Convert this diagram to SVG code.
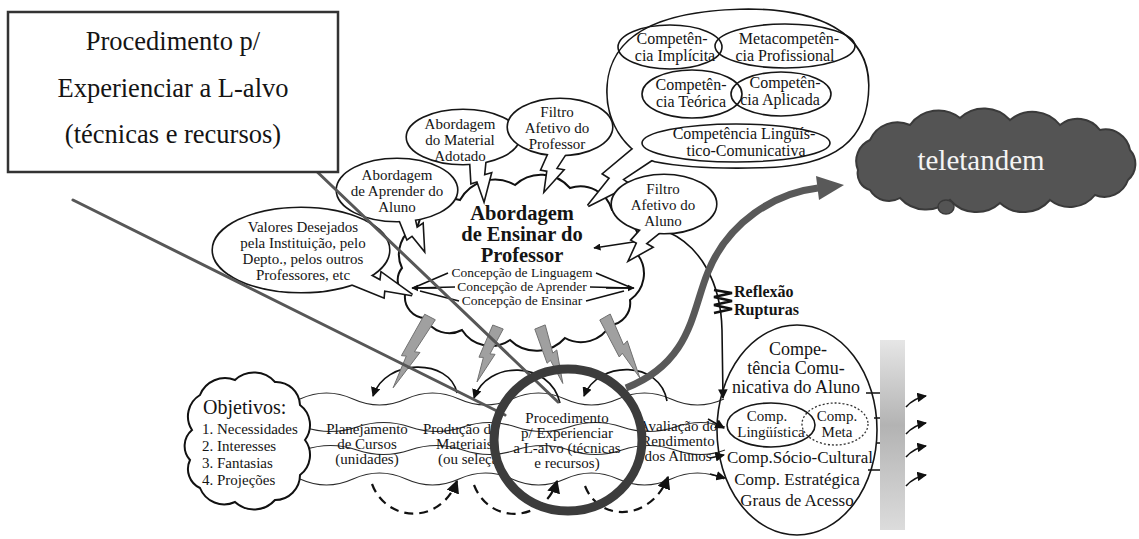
<svg xmlns="http://www.w3.org/2000/svg" width="1139" height="539" viewBox="0 0 1139 539">
<defs>
<style>
text{font-family:"Liberation Serif","Times New Roman",serif;fill:#141414}
.m{text-anchor:middle}
.s15{font-size:15px}
.s16{font-size:16px}
.s18{font-size:18px}
.bo{fill:#fff;stroke:#161616;stroke-width:3.2}
.paint{fill:#fff;stroke:none}
.ol{fill:none;stroke:#161616;stroke-width:1.6}
.wave{fill:none;stroke:#2a2a2a;stroke-width:1.1}
.arc{fill:none;stroke:#111;stroke-width:1.6}
.dash{fill:none;stroke:#111;stroke-width:2.2;stroke-dasharray:9 6}
.ga{fill:#a0a0a0;stroke:#707070;stroke-width:1}
.diag{stroke:#575757;stroke-width:3;stroke-linecap:round}
</style>
<path id="bolt" vector-effect="non-scaling-stroke" d="M-8,0 L8,0 L3,20 L10,19 L0,42 L-4,24 L-10,25 Z"/>
<marker id="ah" viewBox="0 0 10 10" refX="9" refY="5" markerWidth="6" markerHeight="6" orient="auto">
<path d="M0,0 L10,5 L0,10 Z" fill="#111"/>
</marker>
<marker id="ah2" viewBox="0 0 10 10" refX="9" refY="5" markerWidth="4.5" markerHeight="4.5" orient="auto">
<path d="M0,0 L10,5 L0,10 Z" fill="#111"/>
</marker>
<linearGradient id="bar" x1="0" y1="0" x2="0" y2="1">
<stop offset="0" stop-color="#e6e6e6"/>
<stop offset="0.45" stop-color="#b3b3b3"/>
<stop offset="1" stop-color="#dcdcdc"/>
</linearGradient>
<clipPath id="clipL"><rect x="0" y="380" width="497" height="100"/></clipPath>
<clipPath id="clipR"><rect x="642" y="380" width="200" height="100"/></clipPath>
</defs>

<rect width="1139" height="539" fill="#fff"/>

<!-- connectors -->
<g id="connectors">
<!-- wavy band -->
<path class="wave" d="M300,399 q26.5,-12 53,0 t53,0 t53,0 t53,0 t53,0 t53,0 t53,0 t53,0"/>
<path class="wave" d="M304,427 q26.5,9 53,0 t53,0 t53,0 t53,0 t53,0 t53,0 t53,0 t50,0"/>
<path class="wave" d="M304,450 q26.5,-9 53,0 t53,0 t53,0 t53,0 t53,0 t53,0 t53,0 t50,0"/>
<path class="wave" d="M300,479 q26.5,12 53,0 t53,0 t53,0 t53,0 t53,0 t53,0 t53,0 t53,0"/>
<!-- arcs over the band -->
<path class="arc" marker-end="url(#ah)" d="M457,393 C450,358 385,358 373,396"/>
<path class="arc" marker-end="url(#ah)" d="M560,403 C550,360 487,360 474,398"/>
<path class="arc" marker-end="url(#ah)" d="M667,401 C660,360 598,360 584,396"/>
<!-- dashed returns under the band -->
<path class="dash" marker-end="url(#ah)" d="M372,484 C386,522 440,526 457,481"/>
<path class="dash" marker-end="url(#ah)" d="M474,485 C490,526 545,522 557,481"/>
<path class="dash" marker-end="url(#ah)" d="M585,486 C600,524 652,520 668,477"/>
<!-- reflection line down to the learner competence -->
<path class="arc" marker-end="url(#ah)" d="M668,232 C700,246 721,282 722,330 L723,398"/>
<path class="arc" marker-end="url(#ah)" d="M708,419 L724,428"/>
<path class="arc" marker-end="url(#ah)" d="M710,458 L724,455"/>
<path class="arc" marker-end="url(#ah)" d="M710,474 L725,478"/>
<!-- ticks to the bar and outgoing arrows -->
<path class="arc" d="M866,393 L881,393 M874,418 L881,418 M876,443 L881,443 M868,470 L881,470"/>
<path class="arc" marker-end="url(#ah)" d="M906,407 Q914,398 926,396"/>
<path class="arc" marker-end="url(#ah)" d="M906,434 Q914,425 926,423"/>
<path class="arc" marker-end="url(#ah)" d="M906,457 Q914,448 926,446"/>
<path class="arc" marker-end="url(#ah)" d="M906,486 Q914,477 926,475"/>
</g>

<!-- central cloud -->
<g id="n-abordagem">
<path fill="#fff" stroke="#111" stroke-width="2" d="M402,268 A32,32 0 0,1 418,225 A34,34 0 0,1 460,200 A40,40 0 0,1 515,185 A38,38 0 0,1 570,188 A33,33 0 0,1 612,210 A36,36 0 0,1 638,255 A32,32 0 0,1 630,300 A22,22 0 0,1 610,325 A33,33 0 0,1 565,338 A38,38 0 0,1 510,340 A34,34 0 0,1 462,330 A27,27 0 0,1 425,318 A21,21 0 0,1 405,295 A19,19 0 0,1 402,268 Z"/>
<text class="m" x="522" y="220" font-size="20.5" font-weight="bold">Abordagem</text>
<text class="m" x="522" y="241" font-size="20.5" font-weight="bold">de Ensinar do</text>
<text class="m" x="522" y="262" font-size="20.5" font-weight="bold">Professor</text>
<text class="m" x="522" y="277" font-size="13.5">Concepção de Linguagem</text>
<text class="m" x="522" y="291" font-size="13.5">Concepção de Aprender</text>
<text class="m" x="522" y="305" font-size="13.5">Concepção de Ensinar</text>
</g>

<!-- concepts radiating inside the cloud -->
<g id="cloud-arrows">
<path class="arc" d="M448,273 L413,288 M455,287 L413,288 M459,301 L420,291"/>
<path class="arc" marker-end="url(#ah2)" d="M440,288 L412,288"/>
<path class="arc" d="M596,273 L632,288 M590,287 L632,288 M586,301 L624,291"/>
<path class="arc" marker-end="url(#ah2)" d="M606,288 L634,288"/>
<path class="arc" marker-end="url(#ah2)" d="M640,241 L594,248"/>
</g>

<!-- speech bubbles -->
<g id="n-valores">
<use href="#bolt" class="bo" transform="translate(350,274) rotate(-71.3) scale(1.1,1.56)"/>
<ellipse class="bo" cx="301" cy="250" rx="88" ry="42"/>
<use href="#bolt" class="paint" transform="translate(350,274) rotate(-71.3) scale(1.1,1.56)"/>
<ellipse class="paint" cx="301" cy="250" rx="88" ry="42"/>
<text class="m s15" x="303" y="232">Valores Desejados</text>
<text class="m s15" x="303" y="248">pela Instituição, pelo</text>
<text class="m s15" x="303" y="264">Depto., pelos outros</text>
<text class="m s15" x="303" y="280">Professores, etc</text>
</g>

<g id="n-aprender">
<use href="#bolt" class="bo" transform="translate(405,212) rotate(-26.6) scale(1,1)"/>
<ellipse class="bo" cx="397" cy="190" rx="60" ry="31"/>
<use href="#bolt" class="paint" transform="translate(405,212) rotate(-26.6) scale(1,1)"/>
<ellipse class="paint" cx="397" cy="190" rx="60" ry="31"/>
<text class="m s15" x="397" y="180">Abordagem</text>
<text class="m s15" x="397" y="196">de Aprender do</text>
<text class="m s15" x="397" y="212">Aluno</text>
</g>

<g id="n-material">
<use href="#bolt" class="bo" transform="translate(478,155) rotate(-7.6) scale(1,1.07)"/>
<ellipse class="bo" cx="463" cy="137" rx="56" ry="27"/>
<use href="#bolt" class="paint" transform="translate(478,155) rotate(-7.6) scale(1,1.07)"/>
<ellipse class="paint" cx="463" cy="137" rx="56" ry="27"/>
<text class="m s15" x="460" y="129">Abordagem</text>
<text class="m s15" x="460" y="145">do Material</text>
<text class="m s15" x="460" y="161">Adotado</text>
</g>

<g id="n-filtro-prof">
<use href="#bolt" class="bo" transform="translate(560,148) rotate(19.7) scale(1,1.06)"/>
<ellipse class="bo" cx="560" cy="127" rx="52" ry="28"/>
<use href="#bolt" class="paint" transform="translate(560,148) rotate(19.7) scale(1,1.06)"/>
<ellipse class="paint" cx="560" cy="127" rx="52" ry="28"/>
<text class="m s15" x="557" y="117">Filtro</text>
<text class="m s15" x="557" y="133">Afetivo do</text>
<text class="m s15" x="557" y="149">Professor</text>
</g>

<g id="n-competencias">
<use href="#bolt" class="bo" transform="translate(648,150) rotate(47) scale(1.3,1.95)"/>
<path class="bo" d="M655,161 C625,151 605,120 608,85 C612,35 660,12 740,10 C820,8 868,35 868,85 C868,140 835,166 760,167 C720,168 685,167 655,161 Z"/>
<use href="#bolt" class="paint" transform="translate(648,150) rotate(47) scale(1.3,1.95)"/>
<path class="paint" d="M655,161 C625,151 605,120 608,85 C612,35 660,12 740,10 C820,8 868,35 868,85 C868,140 835,166 760,167 C720,168 685,167 655,161 Z"/>
<ellipse class="ol" cx="670" cy="47" rx="52" ry="22"/>
<ellipse class="ol" cx="785" cy="46" rx="70" ry="22"/>
<ellipse class="ol" cx="692" cy="94" rx="50" ry="24"/>
<ellipse class="ol" cx="781" cy="94" rx="50" ry="22"/>
<ellipse class="ol" cx="736" cy="143" rx="94" ry="19"/>
<text class="m s16" x="672" y="44">Competên-</text>
<text class="m s16" x="675" y="61">cia Implícita</text>
<text class="m s16" x="789" y="44">Metacompetên-</text>
<text class="m s16" x="785" y="61">cia Profissional</text>
<text class="m s16" x="691" y="90">Competên-</text>
<text class="m s16" x="691" y="107">cia Teórica</text>
<text class="m s16" x="785" y="88">Competên-</text>
<text class="m s16" x="780" y="105">cia Aplicada</text>
<text class="m s16" x="744" y="139">Competência Lingüís-</text>
<text class="m s16" x="746" y="156">tico-Comunicativa</text>
</g>

<g id="n-filtro-aluno">
<use href="#bolt" class="bo" transform="translate(655,226) rotate(37.1) scale(1,1)"/>
<ellipse class="bo" cx="664" cy="204" rx="52" ry="29"/>
<use href="#bolt" class="paint" transform="translate(655,226) rotate(37.1) scale(1,1)"/>
<ellipse class="paint" cx="664" cy="204" rx="52" ry="29"/>
<text class="m s15" x="663" y="194">Filtro</text>
<text class="m s15" x="663" y="210">Afetivo do</text>
<text class="m s15" x="663" y="226">Aluno</text>
</g>

<!-- objectives -->
<g id="n-objetivos">
<path fill="#fff" stroke="#111" stroke-width="2" d="M192,430 A25,25 0 0,1 200,395 A27,27 0 0,1 235,380 A28,28 0 0,1 275,382 A24,24 0 0,1 300,405 A25,25 0 0,1 305,440 A25,25 0 0,1 300,475 A25,25 0 0,1 275,500 A28,28 0 0,1 235,502 A26,26 0 0,1 200,488 A21,21 0 0,1 190,460 A21,21 0 0,1 192,430 Z"/>
<text x="203" y="414" font-size="20">Objetivos:</text>
<text class="s15" x="202" y="434">1. Necessidades</text>
<text class="s15" x="202" y="451">2. Interesses</text>
<text class="s15" x="202" y="468">3. Fantasias</text>
<text class="s15" x="202" y="485">4. Projeções</text>
</g>

<g id="n-planejamento">
<text class="m s15" x="367" y="434">Planejamento</text>
<text class="m s15" x="367" y="449">de Cursos</text>
<text class="m s15" x="367" y="464">(unidades)</text>
</g>

<g id="n-producao" clip-path="url(#clipL)">
<text class="s15" x="423" y="434">Produção de</text>
<text class="s15" x="436" y="449">Materiais</text>
<text class="s15" x="438" y="464">(ou seleção)</text>
</g>

<g id="n-procedimento">
<text class="m s15" x="567" y="423">Procedimento</text>
<text class="m s15" x="567" y="438">p/ Experienciar</text>
<text class="m s15" x="567" y="453">a L-alvo (técnicas</text>
<text class="m s15" x="567" y="468">e recursos)</text>
</g>

<g id="n-avaliacao" clip-path="url(#clipR)">
<text class="m s15" x="678" y="431">Avaliação do</text>
<text class="m s15" x="678" y="446">Rendimento</text>
<text class="m s15" x="678" y="461">dos Alunos</text>
</g>

<!-- learner communicative competence -->
<g id="n-comp-aluno">
<ellipse class="ol" cx="797" cy="430" rx="80" ry="105"/>
<text class="m s18" x="798" y="355">Compe-</text>
<text class="m s18" x="796" y="374">tência Comu-</text>
<text class="m s18" x="796" y="393">nicativa do Aluno</text>
<ellipse class="ol" cx="771" cy="425" rx="44" ry="22"/>
<ellipse fill="none" stroke="#333" stroke-width="1.3" stroke-dasharray="2 2" cx="835" cy="424" rx="33" ry="21"/>
<text class="m s15" x="767" y="421">Comp.</text>
<text class="m s15" x="771" y="437">Lingüística</text>
<text class="m s15" x="837" y="421">Comp.</text>
<text class="m s15" x="837" y="437">Meta</text>
<text class="m" x="800" y="463" font-size="17">Comp.Sócio-Cultural</text>
<text class="m" x="797" y="485" font-size="17">Comp. Estratégica</text>
<text class="m" x="797" y="506" font-size="17">Graus de Acesso</text>
</g>

<g id="n-bar">
<rect x="880" y="340" width="25" height="190" fill="url(#bar)"/>
</g>

<g id="n-reflexao">
<polyline fill="none" stroke="#111" stroke-width="2.6" points="714,290 732,293 714,297 732,301 714,305 732,309 714,313"/>
<text x="734" y="297" font-size="16" font-weight="bold">Reflexão</text>
<text x="734" y="315" font-size="16" font-weight="bold">Rupturas</text>
</g>

<!-- gray arrows from the teaching approach to the band -->
<g id="gray-arrows">
<use href="#bolt" class="ga" transform="translate(430,317) rotate(27.5) scale(0.75,1.9)"/>
<use href="#bolt" class="ga" transform="translate(498,327) rotate(20.9) scale(0.7,1.4)"/>
<use href="#bolt" class="ga" transform="translate(540,327) rotate(-22) scale(0.7,1.45)"/>
<use href="#bolt" class="ga" transform="translate(605,317) rotate(-29.8) scale(0.75,1.67)"/>
</g>

<!-- teletandem -->
<g id="n-teletandem">
<path fill="#545454" stroke="#3a3a3a" stroke-width="2" d="M858,170 A23,23 0 0,1 870,140 A30,30 0 0,1 910,125 A35,35 0 0,1 960,118 A35,35 0 0,1 1010,120 A35,35 0 0,1 1060,125 A28,28 0 0,1 1100,130 A25,25 0 0,1 1130,150 A21,21 0 0,1 1128,180 A25,25 0 0,1 1095,195 A32,32 0 0,1 1050,200 A35,35 0 0,1 1000,203 A35,35 0 0,1 950,200 A35,35 0 0,1 900,198 A22,22 0 0,1 870,190 A17,17 0 0,1 858,170 Z"/>
<ellipse cx="946" cy="207" rx="8" ry="7" fill="#545454" stroke="#3a3a3a" stroke-width="1.5"/>
<text class="m" x="981" y="170" font-size="29" style="fill:#f4f4f4">teletandem</text>
</g>

<g id="link-teletandem">
<path fill="none" stroke="#595959" stroke-width="7" d="M626,388 C692,362 692,310 708,272 C728,222 775,193 818,188"/>
<polygon fill="#595959" points="844,185 816,176 819,200"/>
</g>

<!-- pointer lines from the caption box -->
<g id="pointers">
<line class="diag" x1="73" y1="200" x2="505" y2="415"/>
<line class="diag" x1="310" y1="165" x2="558" y2="402"/>
</g>

<g id="n-caixa">
<rect x="8" y="12" width="330" height="160" fill="#fff" stroke="#333" stroke-width="2.5"/>
<text class="m" x="173" y="50" font-size="26.5">Procedimento p/</text>
<text class="m" x="173" y="97" font-size="26.5">Experienciar a L-alvo</text>
<text class="m" x="173" y="143" font-size="26.5">(técnicas e recursos)</text>
</g>

<g id="n-anel">
<ellipse cx="568" cy="440" rx="74" ry="71" fill="none" stroke="#3c3c3c" stroke-width="9"/>
</g>
</svg>
